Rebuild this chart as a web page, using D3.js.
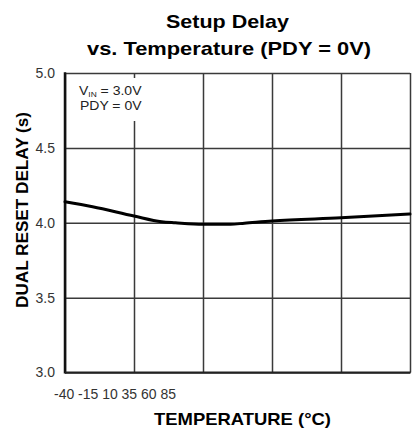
<!DOCTYPE html>
<html><head><meta charset="utf-8">
<script src="https://cdn.jsdelivr.net/npm/d3@7"></script>
<style>
html,body{margin:0;padding:0;background:#fff;}
svg{display:block;font-family:"Liberation Sans",Arial,Helvetica,sans-serif;}
</style></head>
<body>
<svg id="chart" width="415" height="429"></svg>
<script>
// Data
const temperatures = [-40, -30, -15, -5, 0, 10, 20, 25, 35, 60, 85];
const delaySeconds = [4.14, 4.107, 4.045, 4.007, 4.0, 3.99, 3.99, 3.997, 4.012, 4.033, 4.058];
const xTicks = [-40, -15, 10, 35, 60, 85];
const yTicks = [3.0, 3.5, 4.0, 4.5, 5.0];
const titleLines = ["Setup Delay", "vs. Temperature (PDY = 0V)"];
const xTitle = "TEMPERATURE (°C)";
const yTitle = "DUAL RESET DELAY (s)";

const svg = d3.select("#chart");
const L = 65, R = 410, T = 73, B = 372.5;

const x = d3.scaleLinear().domain([-40, 85]).range([L, R]);
const y = d3.scaleLinear().domain([3.0, 5.0]).range([B, T]);

// Titles
svg.append("text").attr("x", 227.5).attr("y", 28).attr("text-anchor", "middle")
  .attr("font-size", 19).attr("font-weight", "bold").attr("textLength", 123)
  .attr("lengthAdjust", "spacingAndGlyphs").text(titleLines[0]);
svg.append("text").attr("x", 229).attr("y", 55).attr("text-anchor", "middle")
  .attr("font-size", 19).attr("font-weight", "bold").attr("textLength", 284)
  .attr("lengthAdjust", "spacingAndGlyphs").text(titleLines[1]);

// Grid: vertical
svg.append("g").attr("transform", `translate(0,${B})`)
  .call(d3.axisBottom(x).tickValues(xTicks).tickSize(-(B - T)).tickFormat(""))
  .call(g => g.select(".domain").remove())
  .call(g => g.selectAll(".tick line").attr("stroke", "#3a3a3a").attr("stroke-width", 1.5));
// Grid: horizontal
svg.append("g").attr("transform", `translate(${L},0)`)
  .call(d3.axisLeft(y).tickValues(yTicks).tickSize(-(R - L)).tickFormat(""))
  .call(g => g.select(".domain").remove())
  .call(g => g.selectAll(".tick line").attr("stroke", "#3a3a3a").attr("stroke-width", 1.5));

// Frame: left & bottom axis lines thicker
svg.append("line").attr("x1", L).attr("x2", L).attr("y1", T - 0.75).attr("y2", B + 1)
  .attr("stroke", "#111").attr("stroke-width", 2.5);
svg.append("line").attr("x1", L).attr("x2", R + 0.75).attr("y1", B).attr("y2", B)
  .attr("stroke", "#222").attr("stroke-width", 2);

// Y tick labels
svg.append("g").selectAll("text").data(yTicks).join("text")
  .attr("x", 55).attr("y", d => y(d)).attr("dy", "0.35em")
  .attr("text-anchor", "end").attr("font-size", 14).attr("fill", "#333")
  .text(d => d.toFixed(1));

// X tick labels (crammed at left in the reference)
svg.append("text").attr("x", 54).attr("y", 399).attr("font-size", 14).attr("fill", "#333")
  .attr("textLength", 122).attr("lengthAdjust", "spacingAndGlyphs")
  .text(xTicks.join(" "));

// Axis titles
svg.append("text").attr("x", 242.5).attr("y", 425).attr("text-anchor", "middle")
  .attr("font-size", 17).attr("font-weight", "bold").attr("textLength", 177)
  .attr("lengthAdjust", "spacingAndGlyphs").text(xTitle);
svg.append("text").attr("transform", "translate(28,210) rotate(-90)").attr("text-anchor", "middle")
  .attr("font-size", 17).attr("font-weight", "bold").attr("textLength", 196)
  .attr("lengthAdjust", "spacingAndGlyphs").text(yTitle);

// Annotation box (hides the first vertical grid line behind the text)
svg.append("rect").attr("x", 67).attr("y", 78).attr("width", 78).attr("height", 43).attr("fill", "#fff");
const a1 = svg.append("text").attr("x", 79).attr("y", 94.5).attr("font-size", 12.5).attr("fill", "#222")
  .attr("textLength", 62.5).attr("lengthAdjust", "spacingAndGlyphs");
a1.append("tspan").text("V");
a1.append("tspan").attr("font-size", 7.5).attr("dy", 2).text("IN");
a1.append("tspan").attr("dy", -2).text(" = 3.0V");
svg.append("text").attr("x", 80).attr("y", 110).attr("font-size", 12.5).attr("fill", "#222")
  .attr("textLength", 61.5).attr("lengthAdjust", "spacingAndGlyphs")
  .text("PDY = 0V");

// Curve
const line = d3.line().x((d, i) => x(temperatures[i])).y(d => y(d)).curve(d3.curveMonotoneX);
svg.append("path").datum(delaySeconds).attr("d", line)
  .attr("fill", "none").attr("stroke", "#000").attr("stroke-width", 3).attr("stroke-linecap", "round");
</script>
</body></html>
